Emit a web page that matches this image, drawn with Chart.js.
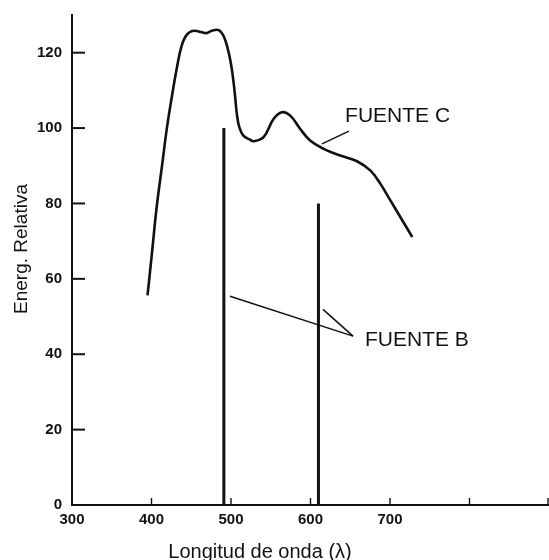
<!DOCTYPE html>
<html>
<head>
<meta charset="utf-8">
<script src="https://cdn.jsdelivr.net/npm/chart.js@4/dist/chart.umd.min.js"></script>
<style>
  html, body { margin: 0; padding: 0; background: #fff; }
  #wrap { width: 549px; height: 560px; }
</style>
</head>
<body>
<div id="wrap"><canvas id="chart" width="549" height="560"></canvas></div>
<script>
// Fuente C: continuous spectrum (wavelength nm, relative energy)
const wavelengthC = [395, 400.5, 406.5, 413, 419.5, 425.5, 432, 438, 444.5, 453, 463.5, 469.5, 476, 484.5, 490.5, 495.5, 500, 504, 507.5, 510.5, 515.5, 524, 528.5, 541, 553.5, 564, 574.5, 587, 599.5, 616.5, 637.5, 658.5, 675.5, 688, 700.5, 713, 728];
const energyC     = [55.6, 66.7, 79, 89.6, 100.2, 108.2, 116.1, 121.9, 124.8, 125.8, 125.4, 125.2, 125.8, 126, 124.5, 121.4, 117, 110.8, 103.5, 100.2, 98, 96.9, 96.5, 97.6, 102.4, 104.2, 103.3, 99.8, 96.7, 94.5, 92.7, 91.2, 88.7, 85.2, 80.8, 76.4, 71.1];

// Fuente B: line spectrum
const wavelengthB = [491, 610];
const energyB     = [100, 80];

// axes
const xTicks = [300, 400, 500, 600, 700, 800, 900];
const xLabelled = [300, 400, 500, 600, 700];
const yTicks = [0, 20, 40, 60, 80, 100, 120];

// annotation labels and leader lines (data units)
const labelC = { text: 'FUENTE C', x: 643.5, y: 103.2 };
const labelB = { text: 'FUENTE B', x: 668.5, y: 43.7 };
const leaderC  = [[614.5, 95.8], [648.4, 99.2]];
const leaderB1 = [[498.7, 55.4], [653.5, 44.8]];
const leaderB2 = [[615.7, 51.9], [653.5, 44.8]];

const ink = '#111';
const font = 'Liberation Sans, Arial, Helvetica, sans-serif';

function pts(xs, ys) { return xs.map((x, i) => ({ x: x, y: ys[i] })); }
function seg(p) { return p.map(q => ({ x: q[0], y: q[1] })); }

const datasets = [{
  data: pts(wavelengthC, energyC),
  borderColor: ink, borderWidth: 2.6,
  tension: 0.4, pointRadius: 0
}];
wavelengthB.forEach((w, i) => {
  datasets.push({ data: [{ x: w, y: 0 }, { x: w, y: energyB[i] }], borderColor: ink, borderWidth: 3, pointRadius: 0 });
});
[leaderC, leaderB1, leaderB2].forEach(l => {
  datasets.push({ data: seg(l), borderColor: ink, borderWidth: 1.5, pointRadius: 0 });
});

const decor = {
  id: 'decor',
  afterDraw(chart) {
    const ctx = chart.ctx, xs = chart.scales.x, ys = chart.scales.y;
    const area = chart.chartArea;
    ctx.save();
    ctx.strokeStyle = ink;
    // inward tick marks
    ctx.lineWidth = 2;
    yTicks.forEach(v => {
      const py = ys.getPixelForValue(v);
      ctx.beginPath(); ctx.moveTo(area.left, py); ctx.lineTo(area.left + 13, py); ctx.stroke();
    });
    ctx.lineWidth = 1.4;
    xTicks.slice(1).forEach(v => {
      const px = Math.min(xs.getPixelForValue(v), area.right - 1);
      ctx.beginPath(); ctx.moveTo(px, area.bottom); ctx.lineTo(px, area.bottom - 7); ctx.stroke();
    });
    // annotation labels
    ctx.fillStyle = ink;
    ctx.font = '21px ' + font;
    ctx.textBaseline = 'middle';
    ctx.textAlign = 'left';
    [labelC, labelB].forEach(l => {
      ctx.fillText(l.text, xs.getPixelForValue(l.x), ys.getPixelForValue(l.y));
    });
    // axis titles
    ctx.font = '20px ' + font;
    ctx.textAlign = 'center';
    ctx.fillText('Longitud de onda (\u03bb)', 260, 552);
    ctx.translate(22, 249);
    ctx.rotate(-Math.PI / 2);
    ctx.font = '19px ' + font;
    ctx.fillText('Energ. Relativa', 0, 0);
    ctx.restore();
  }
};

new Chart(document.getElementById('chart').getContext('2d'), {
  type: 'line',
  data: { datasets: datasets },
  options: {
    responsive: false,
    animation: false,
    layout: { padding: { top: 15, right: 0, left: 0, bottom: 0 } },
    plugins: { legend: { display: false }, tooltip: { enabled: false } },
    elements: { line: { tension: 0 } },
    scales: {
      x: {
        type: 'linear', min: 300, max: 900,
        afterFit(s) { s.height = 55; s.paddingLeft = 0; s.paddingRight = 0; },
        afterBuildTicks(s) { s.ticks = xTicks.map(v => ({ value: v })); },
        grid: { display: false, drawTicks: false },
        border: { display: true, color: ink, width: 2 },
        ticks: {
          color: ink, padding: 6, maxRotation: 0, autoSkip: false,
          font: { family: font, size: 15, weight: 'bold' },
          callback: v => xLabelled.includes(v) ? String(v) : ''
        }
      },
      y: {
        type: 'linear', min: 0, max: 130,
        afterFit(s) { s.width = 72; s.paddingTop = 0; s.paddingBottom = 0; },
        afterBuildTicks(s) { s.ticks = yTicks.map(v => ({ value: v })); },
        grid: { display: false, drawTicks: false },
        border: { display: true, color: ink, width: 2 },
        ticks: {
          color: ink, padding: 10, autoSkip: false,
          font: { family: font, size: 15, weight: 'bold' },
          callback: v => String(v)
        }
      }
    }
  },
  plugins: [decor]
});
</script>
</body>
</html>
